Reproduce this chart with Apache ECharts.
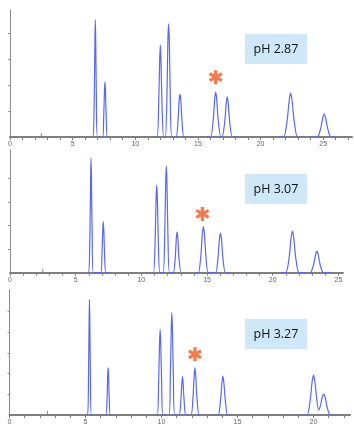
<!DOCTYPE html>
<html>
<head>
<meta charset="utf-8">
<script src="https://cdn.jsdelivr.net/npm/echarts@6/dist/echarts.min.js"></script>
<style>
  html, body { margin: 0; padding: 0; background: #fff; }
  #chart { width: 354px; height: 430px; }
</style>
</head>
<body>
<div id="chart"></div>
<script>
// chromatograms at three mobile-phase pH values (time in min, signal in tick units)
const phLabels = ['pH 2.87', 'pH 3.07', 'pH 3.27'];
const xMax = [27.3, 25.35, 22.4];
const yMax = [4.88, 5.22, 6.04];
const injectTime = 2.5;
const injectHeight = [0.15, 0.17, 0.2];
const markedPeak = [[16.42, 2.3], [14.65, 2.5], [12.2, 2.93]]; // the * over the peak of interest

const trace287 = [
  [6.52, 0], [6.64, 0], [6.73, 1.67], [6.78, 3.78], [6.81, 4.5], [6.84, 3.78], [6.89, 1.67], [6.98, 0],
  [7.39, 0], [7.48, 0.78], [7.54, 1.78], [7.58, 2.12], [7.62, 1.78], [7.68, 0.78], [7.77, 0], [7.98, 0],
  [9.5, null],
  [11.44, 0], [11.74, 0], [11.87, 1.31], [11.95, 2.97], [12.0, 3.54], [12.05, 2.97], [12.13, 1.31], [12.26, 0],
  [12.4, 0], [12.53, 1.61], [12.6, 3.65], [12.66, 4.35], [12.72, 3.65], [12.79, 1.61], [12.92, 0],
  [13.26, 0], [13.41, 0.61], [13.5, 1.39], [13.57, 1.65], [13.64, 1.39], [13.73, 0.61], [13.88, 0], [14.2, 0],
  [15, null],
  [15.7, 0], [16.01, 0], [16.22, 0.64], [16.34, 1.45], [16.42, 1.73], [16.5, 1.45], [16.62, 0.64], [16.83, 0],
  [16.93, 0], [17.14, 0.57], [17.26, 1.29], [17.34, 1.54], [17.42, 1.29], [17.54, 0.57], [17.75, 0], [18.2, 0],
  [20, null],
  [21.4, 0], [21.85, 0], [22.12, 0.63], [22.29, 1.42], [22.4, 1.69], [22.51, 1.42], [22.68, 0.63], [22.95, 0], [23.4, 0],
  [23.7, null],
  [23.94, 0], [24.53, 0], [24.8, 0.33], [24.97, 0.74], [25.08, 0.88], [25.19, 0.74], [25.36, 0.33], [25.63, 0], [26.2, 0]
];

const trace307 = [
  [5.89, 0], [6.0, 0], [6.09, 1.8], [6.14, 4.09], [6.17, 4.87], [6.2, 4.09], [6.25, 1.8], [6.34, 0],
  [6.91, 0], [7.0, 0.8], [7.06, 1.82], [7.1, 2.17], [7.14, 1.82], [7.2, 0.8], [7.29, 0], [7.49, 0],
  [9, null],
  [10.79, 0], [10.93, 0], [11.05, 1.38], [11.12, 3.13], [11.17, 3.73], [11.22, 3.13], [11.29, 1.38], [11.41, 0],
  [11.66, 0], [11.78, 1.68], [11.85, 3.81], [11.9, 4.54], [11.95, 3.81], [12.02, 1.68], [12.14, 0],
  [12.43, 0], [12.58, 0.64], [12.66, 1.46], [12.72, 1.74], [12.78, 1.46], [12.86, 0.64], [13.01, 0], [13.08, 0],
  [13.6, null],
  [14.09, 0], [14.34, 0], [14.53, 0.73], [14.64, 1.65], [14.72, 1.96], [14.8, 1.65], [14.91, 0.73], [15.1, 0],
  [15.64, 0], [15.83, 0.62], [15.94, 1.41], [16.02, 1.68], [16.1, 1.41], [16.21, 0.62], [16.4, 0], [16.75, 0],
  [18.5, null],
  [20.64, 0], [21.0, 0], [21.25, 0.65], [21.4, 1.49], [21.5, 1.77], [21.6, 1.49], [21.75, 0.65], [22.0, 0], [22.47, 0],
  [22.6, null],
  [22.8, 0], [22.86, 0], [23.11, 0.34], [23.26, 0.77], [23.36, 0.92], [23.46, 0.77], [23.61, 0.34], [23.86, 0], [24.37, 0]
];

const trace327 = [
  [4.98, 0], [5.14, 0], [5.2, 2.07], [5.24, 4.7], [5.26, 5.59], [5.28, 4.7], [5.32, 2.07], [5.38, 0], [5.64, 0],
  [5.9, null],
  [6.18, 0], [6.35, 0], [6.42, 0.84], [6.46, 1.92], [6.49, 2.28], [6.52, 1.92], [6.56, 0.84], [6.63, 0], [6.84, 0],
  [8, null],
  [9.47, 0], [9.72, 0], [9.81, 1.53], [9.87, 3.48], [9.91, 4.14], [9.95, 3.48], [10.01, 1.53], [10.1, 0],
  [10.49, 0], [10.58, 1.83], [10.64, 4.15], [10.68, 4.94], [10.72, 4.15], [10.78, 1.83], [10.87, 0],
  [11.16, 0], [11.27, 0.68], [11.34, 1.55], [11.38, 1.85], [11.42, 1.55], [11.49, 0.68], [11.6, 0],
  [11.94, 0], [12.07, 0.84], [12.15, 1.92], [12.2, 2.28], [12.25, 1.92], [12.33, 0.84], [12.46, 0], [12.55, 0],
  [13, null],
  [13.42, 0], [13.73, 0], [13.88, 0.7], [13.98, 1.58], [14.04, 1.88], [14.1, 1.58], [14.2, 0.7], [14.35, 0], [14.63, 0],
  [17, null],
  [19.13, 0], [19.57, 0], [19.78, 0.71], [19.91, 1.62], [20.0, 1.93], [20.09, 1.62], [20.2, 0.85], [20.33, 0.25],
  [20.46, 0.45], [20.57, 0.85], [20.68, 1.01], [20.77, 0.85], [20.9, 0.37], [21.11, 0], [21.54, 0]
];

const traces = [trace287, trace307, trace327];

// six-armed asterisk
const asterisk = 'path://M-1.4,-6L1.4,-6L1.4,6L-1.4,6Z' +
  'M4.496,4.212L-5.896,-1.788L-4.496,-4.212L5.896,1.788Z' +
  'M-5.896,1.788L4.496,-4.212L5.896,-1.788L-4.496,4.212Z';

const grids = [
  { left: 10, top: 10, width: 342, height: 127 },
  { left: 10, top: 150, width: 333, height: 122.7 },
  { left: 9.5, top: 290, width: 340.5, height: 125 }
];
const boxTop = [34, 174, 319];

const myChart = echarts.init(document.getElementById('chart'));

const xAxes = [], yAxes = [], series = [], graphic = [];
grids.forEach((g, i) => {
  xAxes.push({
    gridIndex: i,
    type: 'value',
    min: 0,
    max: xMax[i],
    interval: 1,
    axisLine: { lineStyle: { color: '#7f7f7f', width: 2 } },
    axisTick: { length: 3, lineStyle: { color: '#7f7f7f' } },
    axisLabel: {
      fontSize: 7,
      color: '#666',
      margin: 4,
      showMaxLabel: false,
      formatter: v => (v % 5 === 0 ? String(v) : '')
    },
    splitLine: { show: false }
  });
  yAxes.push({
    gridIndex: i,
    type: 'value',
    min: 0,
    max: yMax[i],
    interval: 1,
    axisLine: { show: true, lineStyle: { color: '#8a8a8a', width: 1 } },
    axisTick: { show: true, length: 2, customValues: [1, 2, 3, 4, 5].filter(v => v < yMax[i] - 0.3), lineStyle: { color: '#999' } },
    axisLabel: { show: false },
    splitLine: { show: false }
  });
  series.push({
    type: 'line',
    xAxisIndex: i,
    yAxisIndex: i,
    data: traces[i],
    symbol: 'none',
    smooth: 0.25,
    connectNulls: false,
    lineStyle: { color: '#5a68f0', width: 1.2 },
    z: 3
  });
  series.push({ // injection mark
    type: 'line',
    xAxisIndex: i,
    yAxisIndex: i,
    data: [[injectTime, 0], [injectTime, injectHeight[i]]],
    symbol: 'none',
    lineStyle: { color: '#888', width: 1 },
    z: 2
  });
  series.push({
    type: 'scatter',
    xAxisIndex: i,
    yAxisIndex: i,
    data: [markedPeak[i]],
    symbol: asterisk,
    symbolSize: 14,
    itemStyle: { color: '#f15a24' },
    z: 4
  });
  graphic.push({
    type: 'rect',
    left: 245,
    top: boxTop[i],
    shape: { width: 62, height: 30 },
    style: { fill: '#cfe8f9' }
  });
  graphic.push({
    type: 'text',
    x: 276,
    y: boxTop[i] + 15,
    style: {
      text: phLabels[i],
      fill: '#111',
      font: '12.5px "Open Sans", sans-serif',
      textAlign: 'center',
      textVerticalAlign: 'middle'
    }
  });
});

myChart.setOption({
  animation: false,
  grid: grids,
  xAxis: xAxes,
  yAxis: yAxes,
  series: series,
  graphic: graphic
});
</script>
</body>
</html>
